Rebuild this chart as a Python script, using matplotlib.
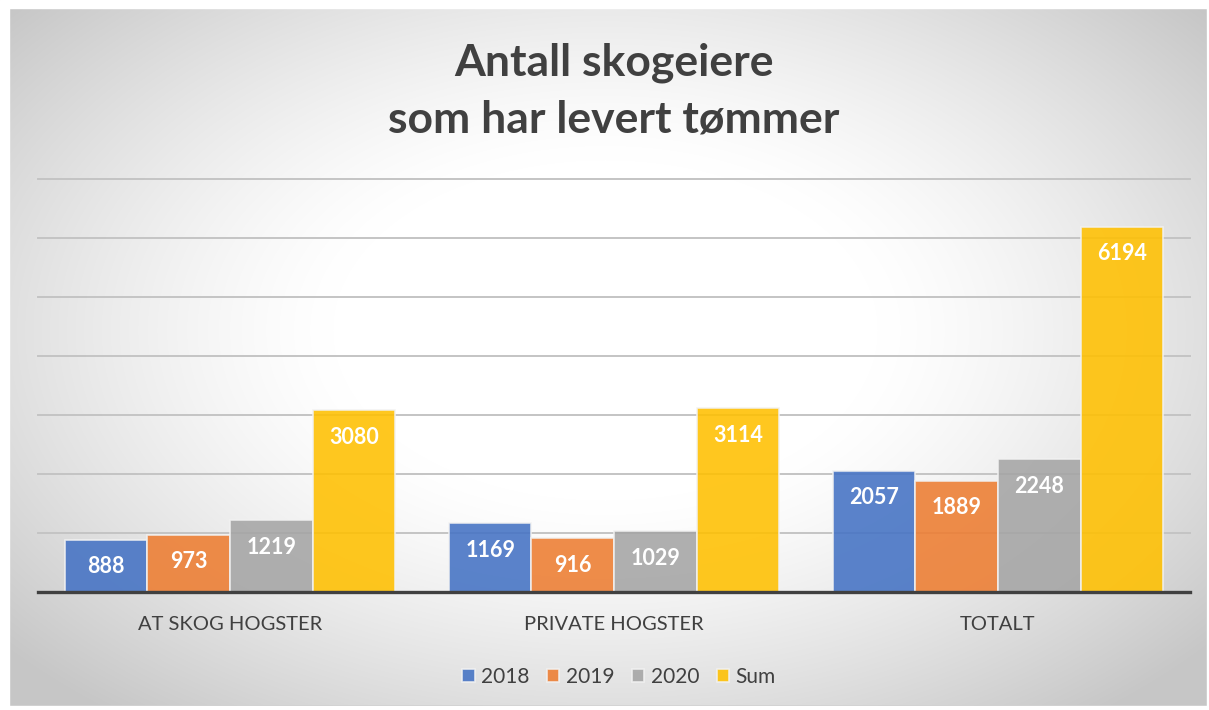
import numpy as np
import matplotlib
matplotlib.use('Agg')
from matplotlib import pyplot as plt
from matplotlib.patches import Rectangle

categories = ['AT SKOG HOGSTER', 'PRIVATE HOGSTER', 'TOTALT']
series = ['2018', '2019', '2020', 'Sum']
values_2018 = [888, 1169, 2057]
values_2019 = [973, 916, 1889]
values_2020 = [1219, 1029, 2248]
values_sum = [3080, 3114, 6194]
colors = ['#4472C4', '#ED7D31', '#A5A5A5', '#FFC000']

plt.rcParams['font.family'] = ['Lato', 'DejaVu Sans']

W, H = 1209, 710
fig = plt.figure(figsize=(W / 100, H / 100), dpi=100)
fig.patch.set_facecolor('white')

# radial grey gradient behind the chart, white in the upper middle
bg = fig.add_axes([0, 0, 1, 1], zorder=0)
yy, xx = np.mgrid[0:H, 0:W]
d = np.hypot((xx - 605) / 1.6, yy - 330)
t = np.clip((d - 170) / 320, 0, 1) ** 1.3
v = 1 - 0.22 * t
img = np.dstack([v, v, v])
bg.imshow(img, extent=[0, W, H, 0], aspect='auto', interpolation='bilinear')
bg.add_patch(Rectangle((9, 8), 1198, 698, fill=False, edgecolor='#c6c6c6', lw=1.2))
bg.add_patch(Rectangle((0, 0), 9, H, color='white'))
bg.add_patch(Rectangle((1207, 0), 2, H, color='white'))
bg.add_patch(Rectangle((0, 0), W, 8, color='white'))
bg.add_patch(Rectangle((0, 706), W, 4, color='white'))
bg.set_xlim(0, W)
bg.set_ylim(H, 0)
bg.axis('off')

ax = fig.add_axes([38 / W, (H - 592) / H, (1190 - 38) / W, (592 - 179) / H], zorder=1)
ax.patch.set_alpha(0)
ax.set_xlim(-0.5, 2.5)
ax.set_ylim(0, 7000)

for level in range(1000, 7001, 1000):
    ax.axhline(level, color='#c4c4c4', lw=1.4, zorder=1, clip_on=False)

x = np.arange(len(categories))
width = 0.215
all_values = [values_2018, values_2019, values_2020, values_sum]
for i, (name, vals, col) in enumerate(zip(series, all_values, colors)):
    bars = ax.bar(x + (i - 1.5) * width, vals, width, color=col, alpha=0.88,
                  edgecolor='#f2f2f2', linewidth=1.2, label=name, zorder=2)
    for b, val in zip(bars, vals):
        ax.annotate(f'{val}', (b.get_x() + b.get_width() / 2, val),
                    xytext=(0, -19.5), textcoords='offset points',
                    ha='center', va='center', color='white',
                    fontsize=15.5, fontweight='bold', zorder=3)

for side in ['top', 'right', 'left']:
    ax.spines[side].set_visible(False)
ax.spines['bottom'].set_color('#404040')
ax.spines['bottom'].set_linewidth(2.4)
ax.spines['bottom'].set_zorder(4)
ax.set_yticks([])
ax.set_xticks(x)
ax.set_xticklabels(categories, fontsize=14.5, color='#404040')
ax.tick_params(axis='x', length=0, pad=17)

fig.text(614 / W, 1 - 91 / H, 'Antall skogeiere\nsom har levert tømmer',
         ha='center', va='center', fontsize=32, fontweight='bold',
         color='#404040', linespacing=1.5)

leg = ax.legend(loc='center', bbox_to_anchor=(619 / W, 1 - 677 / H),
                bbox_transform=fig.transFigure, ncol=4, frameon=False,
                fontsize=15, handlelength=0.6, handleheight=0.6,
                handletextpad=0.3, columnspacing=0.85, labelcolor='#404040')

fig.savefig('out.png', dpi=100)
